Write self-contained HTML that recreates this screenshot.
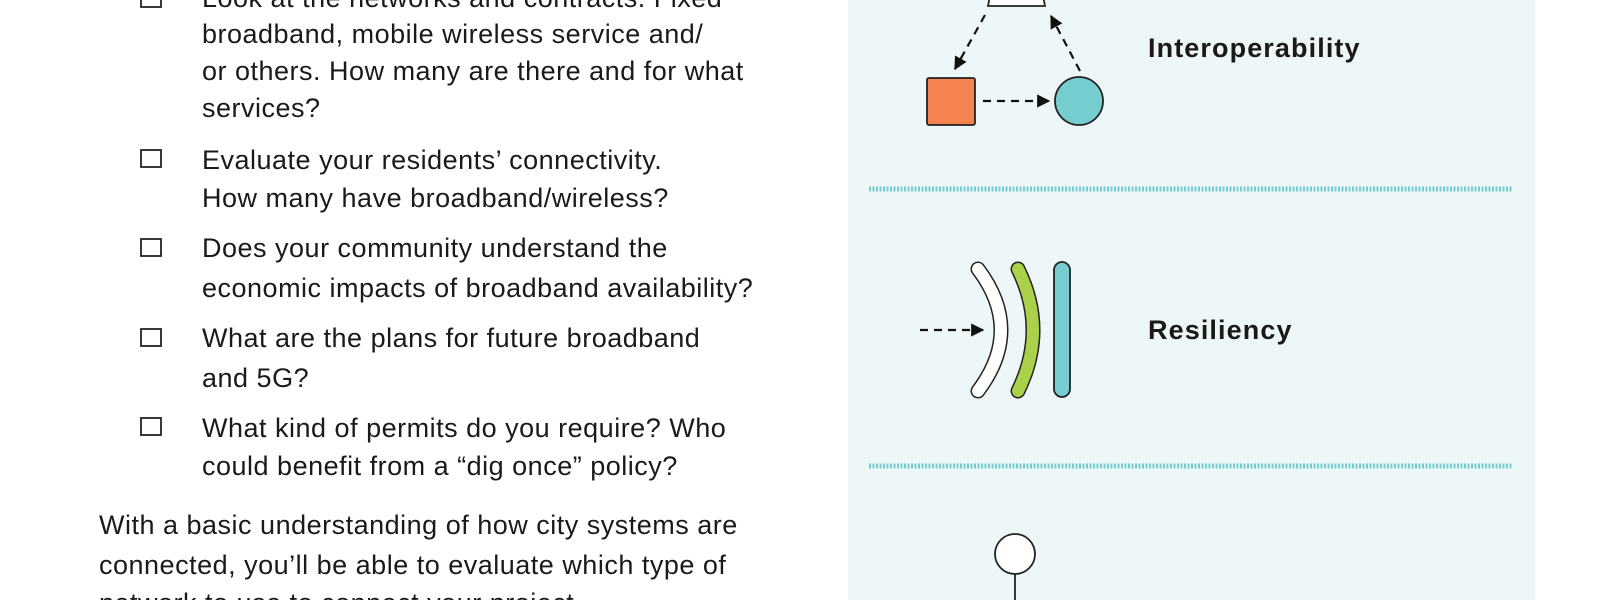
<!DOCTYPE html>
<html><head><meta charset="utf-8"><style>
html,body{margin:0;padding:0;width:1600px;height:600px;overflow:hidden;background:#fff}
svg{display:block}
text{font-family:"Liberation Sans",sans-serif;fill:#1a1a1a}
.t{font-size:27px;letter-spacing:0.5px}
.b{font-size:27px;font-weight:bold;letter-spacing:1.1px}
</style></head><body>
<svg width="1600" height="600" viewBox="0 0 1600 600">
<defs>
<marker id="ah" viewBox="0 0 10 10" refX="9" refY="5" markerWidth="6" markerHeight="6" orient="auto"><path d="M0,0 L10,5 L0,10 z" fill="#111"/></marker>
</defs>
<rect x="848" y="0" width="687" height="600" fill="#eef7f8"/>
<g fill="none" stroke="#222" stroke-width="1.8">
<rect x="141" y="-10" width="20" height="17"/>
<rect x="141" y="150" width="20" height="17"/>
<rect x="141" y="239" width="20" height="17"/>
<rect x="141" y="329" width="20" height="17"/>
<rect x="141" y="418" width="20" height="17"/>
</g>
<g class="t">
<text x="202" y="7">Look at the networks and contracts. Fixed</text>
<text x="202" y="43">broadband, mobile wireless service and/</text>
<text x="202" y="80">or others. How many are there and for what</text>
<text x="202" y="117">services?</text>
<text x="202" y="169">Evaluate your residents’ connectivity.</text>
<text x="202" y="207">How many have broadband/wireless?</text>
<text x="202" y="257">Does your community understand the</text>
<text x="202" y="297">economic impacts of broadband availability?</text>
<text x="202" y="347">What are the plans for future broadband</text>
<text x="202" y="387">and 5G?</text>
<text x="202" y="437">What kind of permits do you require? Who</text>
<text x="202" y="475">could benefit from a “dig once” policy?</text>
<text x="99" y="534">With a basic understanding of how city systems are</text>
<text x="99" y="574">connected, you’ll be able to evaluate which type of</text>
<text x="99" y="612">network to use to connect your project.</text>
</g>
<path d="M993,-20 L1040,-20 L1045,6 L988,6 z" fill="#fff" stroke="#222" stroke-width="1.8"/>
<line x1="985" y1="15" x2="955" y2="69" stroke="#111" stroke-width="2.2" stroke-dasharray="8,6" marker-end="url(#ah)"/>
<line x1="1080" y1="71" x2="1051" y2="16" stroke="#111" stroke-width="2.2" stroke-dasharray="8,6" marker-end="url(#ah)"/>
<rect x="927" y="78" width="48" height="47" rx="2" fill="#f5834f" stroke="#222" stroke-width="1.8"/>
<line x1="983" y1="101" x2="1049" y2="101" stroke="#111" stroke-width="2.2" stroke-dasharray="8,6" marker-end="url(#ah)"/>
<circle cx="1079" cy="101" r="24" fill="#76cdd0" stroke="#222" stroke-width="1.8"/>
<text class="b" x="1148" y="57">Interoperability</text>
<line x1="869" y1="189" x2="1513" y2="189" stroke="#76cdd0" stroke-width="5" stroke-dasharray="2,1.5"/>
<line x1="920" y1="330" x2="983" y2="330" stroke="#111" stroke-width="2.2" stroke-dasharray="8,6" marker-end="url(#ah)"/>
<path d="M978,269 Q1024,330 978,391" fill="none" stroke="#222" stroke-width="15" stroke-linecap="round"/>
<path d="M978,269 Q1024,330 978,391" fill="none" stroke="#fff" stroke-width="12" stroke-linecap="round"/>
<path d="M1018,269 Q1048,330 1018,391" fill="none" stroke="#222" stroke-width="15" stroke-linecap="round"/>
<path d="M1018,269 Q1048,330 1018,391" fill="none" stroke="#abd14a" stroke-width="12" stroke-linecap="round"/>
<rect x="1054" y="262" width="16" height="135" rx="8" fill="#76cdd0" stroke="#222" stroke-width="1.8"/>
<text class="b" x="1148" y="339">Resiliency</text>
<line x1="869" y1="466" x2="1513" y2="466" stroke="#76cdd0" stroke-width="5" stroke-dasharray="2,1.5"/>
<circle cx="1015" cy="554" r="20" fill="#fff" stroke="#222" stroke-width="1.8"/>
<line x1="1015" y1="574" x2="1015" y2="600" stroke="#222" stroke-width="1.8"/>
</svg>
</body></html>
